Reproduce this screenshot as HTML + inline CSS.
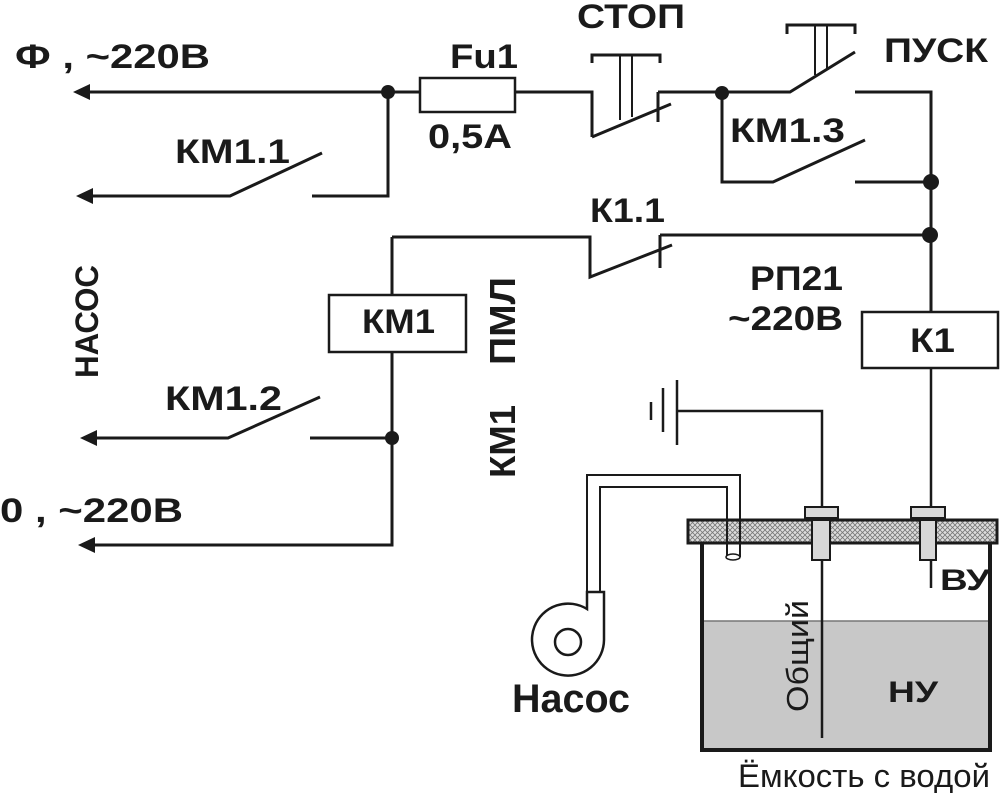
<!DOCTYPE html>
<html><head><meta charset="utf-8"><style>
html,body{margin:0;padding:0;background:#fff}
svg{display:block}
text{font-family:"Liberation Sans",sans-serif;font-weight:bold;fill:#1a1a1a}
</style></head><body>
<svg width="1000" height="793" viewBox="0 0 1000 793" xmlns="http://www.w3.org/2000/svg">
<defs>
<pattern id="h" width="5" height="5" patternUnits="userSpaceOnUse">
<rect width="5" height="5" fill="#ddd"/>
<path d="M0 0L5 5M5 0L0 5" stroke="#777" stroke-width="0.8"/>
</pattern>
</defs>
<g stroke="#1a1a1a" stroke-width="3" fill="none">
<path d="M88 92H420M515 92H592V137M592 137L671 104M658 92V122M658 92H790L855 52M855 92H931V312"/>
<rect x="420" y="78" width="95" height="34" stroke-width="2.5"/>
<path d="M592 63V55H660V63" />
<path d="M620 55V120M632 55V117" stroke-width="2"/>
<path d="M787 34V25H855V34"/>
<path d="M815 25V75M827 25V70" stroke-width="2"/>
<path d="M722 93V182H773L865 140M855 182H931"/>
<path d="M392 237H590V277L672 245M660 235V268M660 235H931"/>
<path d="M388 92V196H312M88 196H230L322 153"/>
<rect x="329" y="295" width="137" height="57" stroke-width="2.5"/>
<path d="M392 237V295M392 352V545H88"/>
<path d="M310 438H392M88 438H228L320 397"/>
<rect x="862" y="312" width="136" height="56" stroke-width="2.5"/>
<path d="M678 411H822V507" stroke-width="2.5"/>
<path d="M677 380V445M663 388V432M651 402V420" stroke-width="2.5"/>
</g>
<g fill="#1a1a1a">
<path d="M73 92L90 84V100Z"/>
<path d="M76 196L93 188V204Z"/>
<path d="M80 438L97 430V446Z"/>
<path d="M78 545L95 537V553Z"/>
<circle cx="388" cy="92" r="7"/>
<circle cx="722" cy="93" r="7"/>
<circle cx="931" cy="182" r="8"/>
<circle cx="930" cy="235" r="8"/>
<circle cx="392" cy="438" r="7"/>
</g>
<rect x="702" y="621" width="288" height="129" fill="#c8c8c8"/>
<line x1="702" y1="621" x2="990" y2="621" stroke="#777" stroke-width="1.5"/>
<path d="M702 543V750H990V543" stroke="#1a1a1a" stroke-width="4" fill="none"/>
<rect x="688" y="520" width="309" height="23" fill="url(#h)" stroke="#1a1a1a" stroke-width="3"/>
<g stroke="#1a1a1a" stroke-width="2" fill="#d8d8d8">
<rect x="805" y="507" width="33" height="11"/>
<rect x="812" y="520" width="18" height="40"/>
<rect x="911" y="507" width="34" height="11"/>
<rect x="920" y="520" width="16" height="40"/>
</g>
<path d="M931 368V507M822 560V738M931 560V588" stroke="#1a1a1a" stroke-width="2.5"/>
<path d="M587 593V475H740V557M600 593V487H727V557" stroke="#1a1a1a" stroke-width="2" fill="none"/>
<ellipse cx="733" cy="557" rx="7" ry="3" fill="#fff" stroke="#1a1a1a" stroke-width="1.5"/>
<path d="M587 592H604V640A36 36 0 1 1 587 609Z" fill="#fff" stroke="#1a1a1a" stroke-width="2.5"/>
<circle cx="568" cy="642" r="13" fill="none" stroke="#1a1a1a" stroke-width="2.5"/>
<g font-size="34">
<text x="15" y="68" textLength="195" lengthAdjust="spacingAndGlyphs">Ф ,  ~220В</text>
<text x="450" y="68" textLength="68" lengthAdjust="spacingAndGlyphs">Fu1</text>
<text x="428" y="148" textLength="84" lengthAdjust="spacingAndGlyphs">0,5А</text>
<text x="577" y="28" textLength="108" lengthAdjust="spacingAndGlyphs">СТОП</text>
<text x="884" y="62" textLength="104" lengthAdjust="spacingAndGlyphs">ПУСК</text>
<text x="730" y="142" textLength="115" lengthAdjust="spacingAndGlyphs">КМ1.3</text>
<text x="590" y="222" textLength="75" lengthAdjust="spacingAndGlyphs">К1.1</text>
<text x="175" y="163" textLength="115" lengthAdjust="spacingAndGlyphs">КМ1.1</text>
<text x="165" y="410" textLength="117" lengthAdjust="spacingAndGlyphs">КМ1.2</text>
<text x="0" y="522" textLength="183" lengthAdjust="spacingAndGlyphs">0 ,  ~220В</text>
<text x="750" y="290" textLength="93" lengthAdjust="spacingAndGlyphs">РП21</text>
<text x="728" y="330" textLength="115" lengthAdjust="spacingAndGlyphs">~220В</text>
<text x="362" y="333" textLength="73" lengthAdjust="spacingAndGlyphs">КМ1</text>
<text x="910" y="352" textLength="45" lengthAdjust="spacingAndGlyphs">К1</text>
<text transform="translate(98,378) rotate(-90)" font-size="32" textLength="113" lengthAdjust="spacingAndGlyphs">НАСОС</text>
<text transform="translate(515,365) rotate(-90)" font-size="36" textLength="88" lengthAdjust="spacingAndGlyphs">ПМЛ</text>
<text transform="translate(515,478) rotate(-90)" font-size="36" textLength="73" lengthAdjust="spacingAndGlyphs">КМ1</text>
<text x="940" y="590" font-size="30" textLength="50" lengthAdjust="spacingAndGlyphs">ВУ</text>
<text x="888" y="702" font-size="30" textLength="50" lengthAdjust="spacingAndGlyphs">НУ</text>
<text x="512" y="712" font-size="40" textLength="118" lengthAdjust="spacingAndGlyphs">Насос</text>
<text transform="translate(808,712) rotate(-90)" font-size="31" style="font-weight:normal" textLength="112" lengthAdjust="spacingAndGlyphs">Общий</text>
<text x="738" y="787" font-size="32" style="font-weight:normal" textLength="252" lengthAdjust="spacingAndGlyphs">Ёмкость с водой</text>
</g>
</svg>
</body></html>
